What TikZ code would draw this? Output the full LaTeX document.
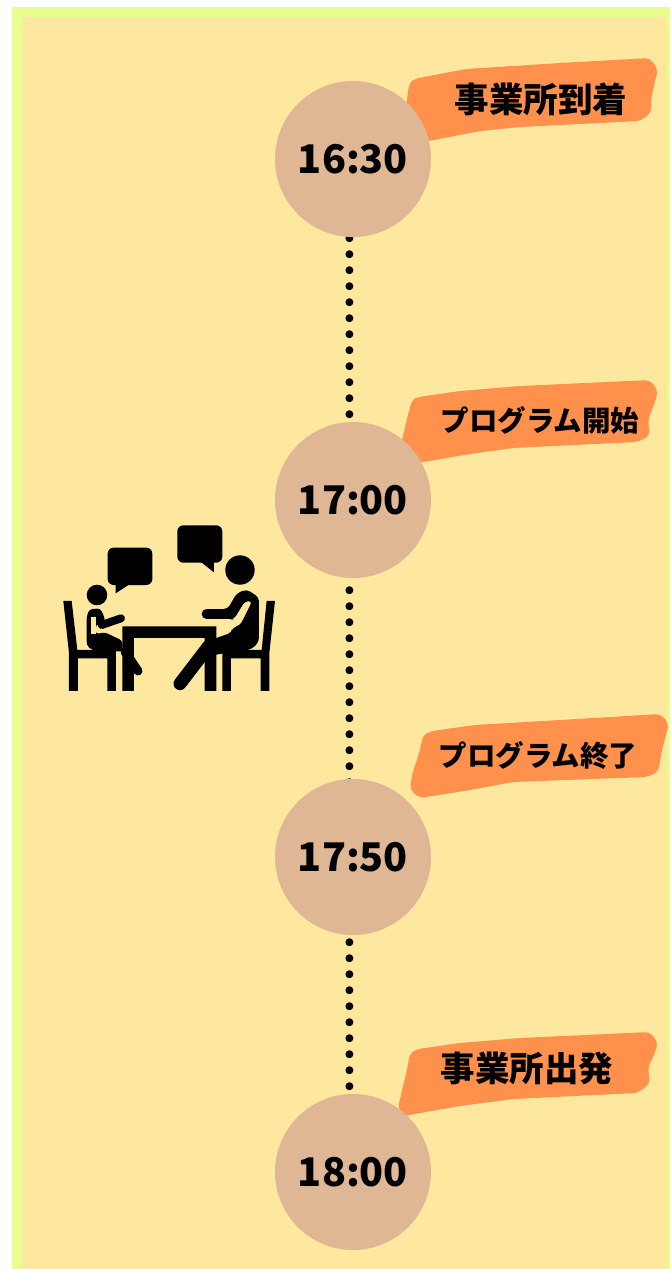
\documentclass[tikz,border=0pt]{standalone}
\usepackage{fontspec}
\newfontfamily\jpfont[BoldFont={Noto Sans CJK JP Black}]{Noto Sans CJK JP}
\usetikzlibrary{backgrounds}
\definecolor{framegreen}{HTML}{E8FF8F}
\definecolor{paperyellow}{HTML}{FEE89F}
\definecolor{timetan}{HTML}{DFB795}
\definecolor{brushorange}{HTML}{FF914D}
\tikzset{
  timenode/.style={circle, fill=timetan, minimum size=156pt, inner sep=0pt, font=\jpfont\bfseries\fontsize{39.5}{39.5}\selectfont},
  tasknode/.style={inner sep=0pt, font=\jpfont\bfseries\fontsize{#1}{#1}\selectfont},
  dotline/.style={line width=8pt, line cap=round, dash pattern=on 0pt off 16pt},
  brush/.style={fill=brushorange, rounded corners=5pt}
}
\begin{document}
\begin{tikzpicture}[x=1pt, y=-1pt]
        \useasboundingbox (0,0) rectangle (670,1269);
        % brush strokes behind the times
        \fill[brush] (407,100) -- (409,84) -- (414,79) -- (450,72) -- (466,69) -- (560,63) -- (650,58) -- (658,70) -- (654,85) -- (651,100) -- (651,113) -- (640,121) -- (520,127) -- (480,131) -- (429,141) -- (400,141) -- cycle;
        \fill[brush] (402,440) -- (408,415) -- (412,400) -- (418,397) -- (460,391) -- (520,386) -- (650,380) -- (658,391) -- (654,405) -- (648,420) -- (650,436) -- (637,442) -- (513,448) -- (470,454) -- (423,462) -- (400,462) -- cycle;
        \fill[brush] (410,790) -- (412,775) -- (420,750) -- (423,735) -- (432,731) -- (475,725) -- (560,720) -- (660,714) -- (669,723) -- (666,735) -- (662,750) -- (658,772) -- (647,777) -- (513,782) -- (470,790) -- (420,798) -- cycle;
        \fill[brush] (398,1108) -- (402,1090) -- (407,1070) -- (410,1053) -- (418,1049) -- (460,1043) -- (520,1038) -- (650,1032) -- (658,1043) -- (654,1055) -- (648,1067) -- (650,1084) -- (637,1093) -- (513,1099) -- (460,1106) -- (403,1116) -- cycle;
        % times and tasks
        \node[timenode] (t1630) at (353,159) {16:30};
        \node[timenode] (t1700) at (353,500) {17:00};
        \node[timenode] (t1750) at (353,857) {17:50};
        \node[timenode] (t1800) at (353,1172) {18:00};
        \node[tasknode=34.5] (arrive) at (541,99) {事業所到着};
        \node[tasknode=28.5] (start) at (540,420) {プログラム開始};
        \node[tasknode=28.5] (finish) at (538,755) {プログラム終了};
        \node[tasknode=34.5] (leave) at (527,1068) {事業所出発};
        \begin{pgfonlayer}{background}
        \fill[framegreen] (12,7) rectangle (670,1269);
        \fill[paperyellow] (22,17) rectangle (667,1269);
        \draw[dotline] ([xshift=-3.6pt,yshift=-1pt]t1630.south) -- ([xshift=-3.6pt]t1700.north);
        \draw[dotline] ([xshift=-3.6pt,yshift=-12pt]t1700.south) -- ([xshift=-3.6pt,yshift=-4pt]t1750.north);
        \draw[dotline] ([xshift=-3.6pt,yshift=-7pt]t1750.south) -- ([xshift=-3.6pt]t1800.north);
        \end{pgfonlayer}
        % table talk icon
        \begin{scope}[shift={(50,510)}, x=.3333pt, y=-.3333pt]
        \fill[rounded corners=6pt] (173,113) rectangle (307,225);
        \fill (197,215) -- (197,250) -- (240,222) -- cycle;
        \fill[rounded corners=6pt] (382,46) rectangle (517,158);
        \fill (445,150) -- (492,187) -- (492,150) -- cycle;
        \fill (141,255) circle (10.3pt);
        \fill (570,180) circle (14.7pt);
        % chairs and table
        \fill (40,273) -- (65,273) -- (82,420) -- (198,420) -- (198,543) -- (172,543) -- (172,445) -- (84,445) -- (84,543) -- (57,543) -- (57,430) -- cycle;
        \fill (675,273) -- (650,273) -- (635,420) -- (517,420) -- (517,543) -- (543,543) -- (543,445) -- (632,445) -- (632,543) -- (658,543) -- (658,430) -- cycle;
        \fill (217,349) -- (499,349) -- (499,543) -- (464,543) -- (464,384) -- (252,384) -- (252,543) -- (217,543) -- cycle;
        % left person
        \fill[rounded corners=3pt] (110,320) -- (118,298) -- (150,295) -- (163,320) -- (165,336) -- (137,345) -- (137,372) -- (165,367) -- (217,392) -- (217,425) -- (125,420) -- (110,405) -- cycle;
        \fill[paperyellow] (124,322) -- (137,322) -- (137,372) -- (124,372) -- cycle;
        \draw[line width=8pt, line cap=round] (155,345) -- (213,325);
        \draw[line width=9pt, line cap=round] (225,425) -- (264,483);
        % right person
        \fill[rounded corners=4pt] (540,328) -- (552,328) -- (585,273) -- (607,273) -- (570,347) -- (548,352) -- (545,368) -- (499,384) -- (470,395) -- (470,440) -- (520,430) -- (605,418) -- (627,395) -- (627,262) -- (590,238) -- (560,250) -- (533,297) -- (520,297) -- cycle;
        \draw[line width=10pt, line cap=round] (470,312) -- (540,312);
        \draw[line width=13pt, line cap=round] (390,521) -- (475,410);
        \end{scope}
\end{tikzpicture}
\end{document}
